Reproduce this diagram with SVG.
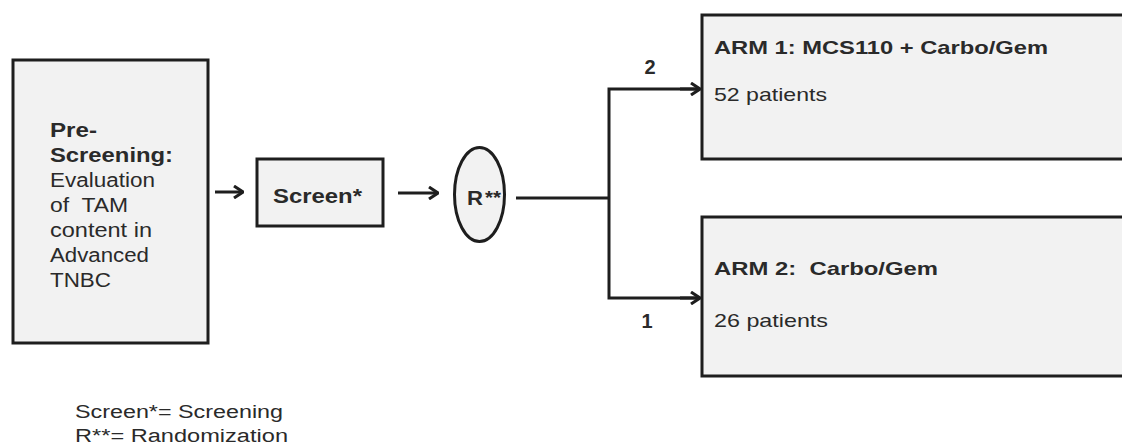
<svg xmlns="http://www.w3.org/2000/svg" width="1122" height="445" viewBox="0 0 1122 445">
  <defs>
    <style>
      .box { fill: #f2f2f2; stroke: #1e1e1e; stroke-width: 3; }
      .wire { fill: none; stroke: #1e1e1e; stroke-width: 3; }
      .t { font-family: "Liberation Sans", Arial, sans-serif; font-size: 19px; fill: #2a2a2a; white-space: pre; }
      .big { font-size: 20px; }
      .b { font-weight: bold; }
      .leg { font-family: "Liberation Sans", Arial, sans-serif; font-size: 18px; fill: #2a2a2a; white-space: pre; }
    </style>
    <marker id="chev" viewBox="0 0 12 14" refX="11" refY="7" markerWidth="12" markerHeight="14" markerUnits="userSpaceOnUse" orient="auto">
      <path d="M2,1 L11,7 L2,13" fill="none" stroke="#1e1e1e" stroke-width="3"/>
    </marker>
  </defs>

  <rect width="1122" height="445" fill="#ffffff"/>

  <!-- pre-screening block -->
  <g id="prescreen">
    <rect class="box" x="13" y="60" width="195" height="283"/>
    <text class="t big b" x="50" y="137" textLength="47" lengthAdjust="spacingAndGlyphs">Pre-</text>
    <text class="t big b" x="50" y="162" textLength="123" lengthAdjust="spacingAndGlyphs">Screening:</text>
    <text class="t big" x="50" y="187" textLength="105" lengthAdjust="spacingAndGlyphs">Evaluation</text>
    <text class="t big" x="50" y="212" textLength="78" lengthAdjust="spacingAndGlyphs">of  TAM</text>
    <text class="t big" x="50" y="237" textLength="102" lengthAdjust="spacingAndGlyphs">content in</text>
    <text class="t big" x="50" y="262" textLength="99" lengthAdjust="spacingAndGlyphs">Advanced</text>
    <text class="t big" x="50" y="287" textLength="61" lengthAdjust="spacingAndGlyphs">TNBC</text>
  </g>

  <!-- screening step -->
  <g id="screen">
    <rect class="box" x="257" y="159" width="126" height="67"/>
    <text class="t big b" x="273" y="203" textLength="89" lengthAdjust="spacingAndGlyphs">Screen*</text>
  </g>

  <!-- randomization -->
  <g id="random">
    <ellipse class="box" cx="479.5" cy="194.5" rx="25" ry="47"/>
    <text class="t big b" x="467" y="205" textLength="16" lengthAdjust="spacingAndGlyphs">R</text>
    <text class="t b" x="485" y="204" font-size="13" textLength="16" lengthAdjust="spacingAndGlyphs">**</text>
  </g>

  <!-- treatment arms -->
  <g id="arm1">
    <rect class="box" x="702" y="15" width="440" height="144"/>
    <text class="t b" x="714" y="54" textLength="334" lengthAdjust="spacingAndGlyphs">ARM 1: MCS110 + Carbo/Gem</text>
    <text class="t" x="714" y="101" textLength="113" lengthAdjust="spacingAndGlyphs">52 patients</text>
  </g>
  <g id="arm2">
    <rect class="box" x="702" y="217" width="440" height="159"/>
    <text class="t b" x="714" y="275" textLength="224" lengthAdjust="spacingAndGlyphs">ARM 2:  Carbo/Gem</text>
    <text class="t" x="714" y="327" textLength="114" lengthAdjust="spacingAndGlyphs">26 patients</text>
  </g>

  <!-- flow connectors -->
  <g id="connectors">
    <line class="wire" x1="215" y1="192" x2="243" y2="192" marker-end="url(#chev)"/>
    <line class="wire" x1="398" y1="193" x2="438" y2="193" marker-end="url(#chev)"/>
    <line class="wire" x1="516" y1="198" x2="609" y2="198"/>
    <path class="wire" d="M700,89 H609 V298 H700"/>
    <line class="wire" x1="680" y1="89" x2="700" y2="89" marker-end="url(#chev)"/>
    <line class="wire" x1="680" y1="298" x2="700" y2="298" marker-end="url(#chev)"/>
    <text class="t big b" x="650" y="74" text-anchor="middle">2</text>
    <text class="t big b" x="647" y="328" text-anchor="middle">1</text>
  </g>

  <!-- legend -->
  <g id="legend">
    <text class="leg" x="75" y="418" textLength="208" lengthAdjust="spacingAndGlyphs">Screen*= Screening</text>
    <text class="leg" x="75" y="442" textLength="213" lengthAdjust="spacingAndGlyphs">R**= Randomization</text>
  </g>
</svg>
